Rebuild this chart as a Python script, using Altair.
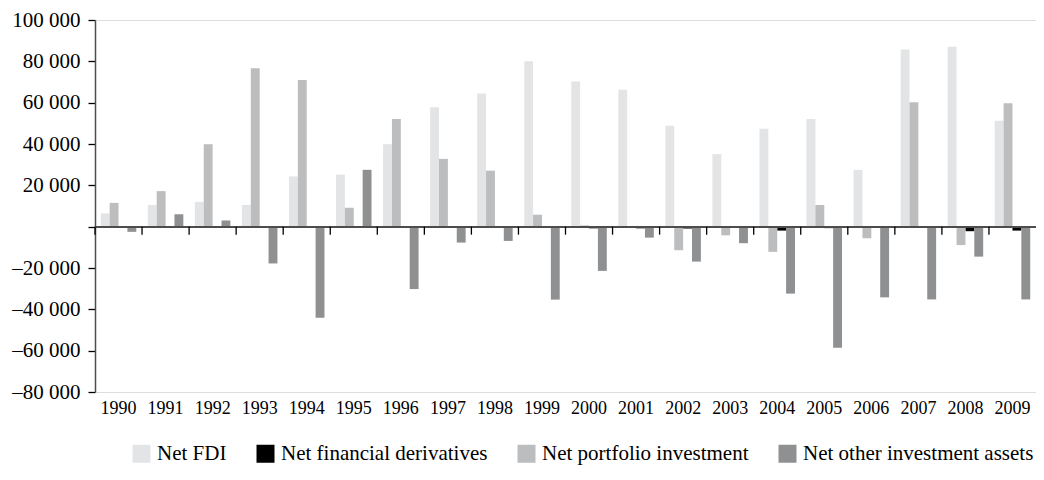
import altair as alt
import pandas as pd

years = ["1990", "1991", "1992", "1993", "1994", "1995", "1996", "1997", "1998", "1999",
         "2000", "2001", "2002", "2003", "2004", "2005", "2006", "2007", "2008", "2009"]

net_fdi = [6400, 10500, 12000, 10500, 24300, 25200, 39900, 57800, 64400, 80000,
           70200, 66300, 48800, 35100, 47400, 52100, 27500, 85700, 87100, 51200]
net_derivatives = [0, 0, 0, 0, 0, 0, 0, 0, 0, 0,
                   -800, -800, -900, 0, -1900, -700, 0, -600, -2200, -1900]
net_portfolio = [11500, 17200, 39900, 76700, 71000, 9100, 52100, 32800, 27100, 5800,
                 600, 0, -11400, -4200, -12200, 10500, -5600, 60200, -8900, 59700]
net_other = [-2500, 6000, 3000, -17800, -44100, 27500, -30200, -7700, -6900, -35300,
             -21400, -5300, -16900, -8000, -32400, -58600, -34200, -35200, -14500, -35200]

legend_order = ["Net FDI", "Net financial derivatives", "Net portfolio investment",
                "Net other investment assets"]
offset_order = ["Net FDI", "Net portfolio investment", "Net financial derivatives",
                "Net other investment assets"]
colors = ["#e3e4e6", "#000000", "#bcbdbf", "#8f9092"]

series_values = {
    "Net FDI": net_fdi,
    "Net financial derivatives": net_derivatives,
    "Net portfolio investment": net_portfolio,
    "Net other investment assets": net_other,
}

rows = []
for name, vals in series_values.items():
    for yr, v in zip(years, vals):
        rows.append({"year": yr, "series": name, "value": v})
df = pd.DataFrame(rows)
ticks_df = pd.DataFrame({"year": years})

FONT = "Liberation Serif"
W = 941
H = 372
x_scale = alt.Scale(domain=years, padding=0)

bars = alt.Chart(df).mark_bar().encode(
    x=alt.X("year:N", sort=years, scale=x_scale,
            axis=alt.Axis(title=None, labelAngle=0, domain=False, ticks=False,
                          labelPadding=7, labelFontSize=18, labelFont=FONT,
                          labelColor="black", grid=False)),
    xOffset=alt.XOffset("series:N", sort=offset_order,
                        scale=alt.Scale(domain=offset_order, paddingOuter=0.65, paddingInner=0)),
    y=alt.Y("value:Q", scale=alt.Scale(domain=[-80000, 100000], nice=False),
            axis=alt.Axis(title=None, values=list(range(-80000, 100001, 20000)),
                          labelExpr="datum.value == 0 ? '' : (datum.value < 0 ? '\u2013' : '') + replace(format(abs(datum.value), ','), ',', ' ')",
                          grid=False, domainColor="#4d4d4d", domainWidth=1.5,
                          tickColor="black", tickSize=7, tickWidth=1.3,
                          labelFontSize=21, labelFont=FONT, labelColor="black",
                          labelPadding=8)),
    color=alt.Color("series:N", sort=legend_order,
                    scale=alt.Scale(domain=legend_order, range=colors),
                    legend=alt.Legend(title=None, orient="none", legendX=36, legendY=423,
                                      direction="horizontal", symbolType="square",
                                      symbolSize=324, symbolStrokeWidth=0,
                                      labelFontSize=21, labelFont=FONT, labelColor="black",
                                      labelOffset=5, columnPadding=28, padding=0,
                                      labelLimit=0, symbolOpacity=1)),
)

zero_line = alt.Chart(ticks_df).mark_rule(color="#4d4d4d", strokeWidth=1.5).encode(
    y=alt.datum(0), x=alt.value(0), x2=alt.value(W)
)

cat_ticks = alt.Chart(ticks_df).mark_rule(color="black", strokeWidth=1.3, y2Offset=8).encode(
    x=alt.X("year:N", sort=years, bandPosition=0),
    y=alt.datum(0),
    y2=alt.datum(0),
)

chart = alt.layer(bars, zero_line, cat_ticks).properties(
    width=W, height=H,
    autosize=alt.AutoSizeParams(type="none"),
    padding={"left": 87, "top": 12, "right": 0, "bottom": 76},
).configure_view(stroke=None).configure(font=FONT)

chart.save("out.html", embed_options={"renderer": "svg", "actions": False})
